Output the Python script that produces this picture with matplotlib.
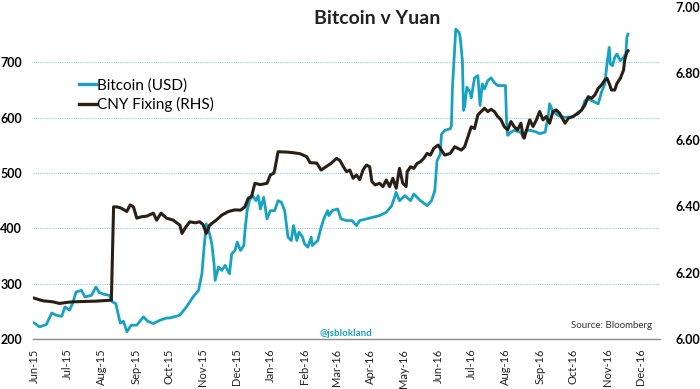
import numpy as np
import pandas as pd
import matplotlib
matplotlib.use("Agg")
import matplotlib.pyplot as plt
from matplotlib.dates import MonthLocator, DateFormatter
from matplotlib.ticker import FormatStrFormatter

# Bitcoin price in USD (left axis)
btc_dates = [
    "2015-06-01", "2015-06-06", "2015-06-12", "2015-06-17", "2015-06-21", "2015-06-26", "2015-06-29",
    "2015-07-03", "2015-07-06", "2015-07-09", "2015-07-14", "2015-07-17", "2015-07-23", "2015-07-27",
    "2015-07-30", "2015-08-03", "2015-08-08", "2015-08-11", "2015-08-14", "2015-08-18", "2015-08-21",
    "2015-08-24", "2015-08-28", "2015-09-02", "2015-09-08", "2015-09-12", "2015-09-17", "2015-09-23",
    "2015-09-29", "2015-10-02", "2015-10-11", "2015-10-17", "2015-10-23", "2015-10-28", "2015-10-31",
    "2015-11-02", "2015-11-04", "2015-11-07", "2015-11-09", "2015-11-11", "2015-11-12", "2015-11-15",
    "2015-11-18", "2015-11-21", "2015-11-25", "2015-11-27", "2015-11-30", "2015-12-02", "2015-12-05",
    "2015-12-08", "2015-12-09", "2015-12-11", "2015-12-13", "2015-12-16", "2015-12-19", "2015-12-21",
    "2015-12-23", "2015-12-26", "2015-12-29", "2016-01-01", "2016-01-05", "2016-01-08", "2016-01-11",
    "2016-01-14", "2016-01-17", "2016-01-20", "2016-01-22", "2016-01-25", "2016-01-27", "2016-01-30",
    "2016-02-01", "2016-02-04", "2016-02-07", "2016-02-08", "2016-02-13", "2016-02-16", "2016-02-19",
    "2016-02-22", "2016-02-23", "2016-02-26", "2016-03-02", "2016-03-05", "2016-03-10", "2016-03-15",
    "2016-03-19", "2016-03-22", "2016-03-28", "2016-04-03", "2016-04-09", "2016-04-15", "2016-04-20",
    "2016-04-24", "2016-04-27", "2016-05-02", "2016-05-07", "2016-05-10", "2016-05-16", "2016-05-22",
    "2016-05-26", "2016-05-29", "2016-05-31", "2016-06-03", "2016-06-04", "2016-06-07", "2016-06-12",
    "2016-06-13", "2016-06-14", "2016-06-15", "2016-06-17", "2016-06-20", "2016-06-21", "2016-06-23",
    "2016-06-24", "2016-06-25", "2016-06-27", "2016-06-30", "2016-07-01", "2016-07-04", "2016-07-07",
    "2016-07-09", "2016-07-11", "2016-07-13", "2016-07-16", "2016-07-19", "2016-07-22", "2016-07-25",
    "2016-07-28", "2016-08-01", "2016-08-02", "2016-08-03", "2016-08-06", "2016-08-09", "2016-08-14",
    "2016-08-17", "2016-08-20", "2016-08-24", "2016-08-29", "2016-09-01", "2016-09-06", "2016-09-09",
    "2016-09-10", "2016-09-13", "2016-09-18", "2016-09-22", "2016-09-27", "2016-10-01", "2016-10-06",
    "2016-10-09", "2016-10-12", "2016-10-15", "2016-10-18", "2016-10-21", "2016-10-24", "2016-10-27",
    "2016-10-30", "2016-11-01", "2016-11-03", "2016-11-04", "2016-11-06", "2016-11-08", "2016-11-10",
    "2016-11-13", "2016-11-16", "2016-11-18", "2016-11-19", "2016-11-20",
]
btc_values = [
    229, 222, 226, 247, 243, 241, 258,
    252, 265, 285, 288, 276, 279, 294,
    284, 281, 279, 267, 264, 229, 232,
    213, 225, 225, 240, 232, 228, 234,
    238, 238, 243, 258, 276, 288, 318,
    366, 408, 390, 372, 336, 306, 330,
    324, 333, 318, 354, 360, 375, 360,
    369, 396, 432, 450, 459, 450, 459,
    435, 456, 417, 432, 432, 450, 447,
    432, 384, 378, 405, 378, 393, 385,
    372, 366, 384, 369, 378, 402, 420,
    432, 423, 432, 435, 417, 414, 414,
    405, 414, 417, 420, 423, 429, 441,
    465, 450, 459, 450, 462, 450, 441,
    450, 468, 522, 534, 570, 577, 580,
    585, 655, 691, 760, 754, 745, 703,
    613, 620, 655, 646, 636, 672, 676,
    622, 661, 652, 667, 672, 663, 658,
    658, 658, 595, 568, 574, 577, 574,
    568, 577, 577, 574, 571, 574, 607,
    625, 611, 604, 601, 601, 601, 610,
    613, 631, 634, 631, 628, 625, 646,
    661, 697, 727, 697, 694, 709, 715,
    703, 709, 715, 745, 751,
]

# CNY fixing (right axis)
cny_dates = [
    "2015-06-01", "2015-06-09", "2015-06-18", "2015-06-24", "2015-06-30", "2015-07-06", "2015-07-17",
    "2015-07-27", "2015-08-10", "2015-08-12", "2015-08-15", "2015-08-19", "2015-08-24", "2015-08-27",
    "2015-08-30", "2015-09-02", "2015-09-06", "2015-09-11", "2015-09-17", "2015-09-20", "2015-09-24",
    "2015-09-29", "2015-10-05", "2015-10-11", "2015-10-13", "2015-10-16", "2015-10-20", "2015-10-25",
    "2015-10-29", "2015-11-01", "2015-11-04", "2015-11-07", "2015-11-13", "2015-11-18", "2015-11-24",
    "2015-11-30", "2015-12-05", "2015-12-09", "2015-12-12", "2015-12-15", "2015-12-18", "2015-12-23",
    "2015-12-29", "2016-01-01", "2016-01-04", "2016-01-05", "2016-01-08", "2016-01-16", "2016-01-22",
    "2016-01-28", "2016-02-03", "2016-02-06", "2016-02-12", "2016-02-16", "2016-02-21", "2016-02-25",
    "2016-03-01", "2016-03-04", "2016-03-07", "2016-03-10", "2016-03-13", "2016-03-16", "2016-03-19",
    "2016-03-22", "2016-03-25", "2016-03-28", "2016-03-31", "2016-04-02", "2016-04-05", "2016-04-09",
    "2016-04-12", "2016-04-15", "2016-04-18", "2016-04-21", "2016-04-24", "2016-04-27", "2016-04-30",
    "2016-05-03", "2016-05-04", "2016-05-07", "2016-05-10", "2016-05-13", "2016-05-16", "2016-05-19",
    "2016-05-22", "2016-05-25", "2016-05-28", "2016-06-01", "2016-06-04", "2016-06-07", "2016-06-12",
    "2016-06-16", "2016-06-19", "2016-06-22", "2016-06-25", "2016-06-28", "2016-07-01", "2016-07-04",
    "2016-07-07", "2016-07-10", "2016-07-13", "2016-07-16", "2016-07-19", "2016-07-22", "2016-07-25",
    "2016-07-28", "2016-07-31", "2016-08-03", "2016-08-06", "2016-08-09", "2016-08-12", "2016-08-15",
    "2016-08-17", "2016-08-18", "2016-08-21", "2016-08-23", "2016-08-26", "2016-08-29", "2016-09-01",
    "2016-09-04", "2016-09-07", "2016-09-10", "2016-09-13", "2016-09-16", "2016-09-19", "2016-09-24",
    "2016-09-27", "2016-10-01", "2016-10-06", "2016-10-09", "2016-10-12", "2016-10-15", "2016-10-18",
    "2016-10-21", "2016-10-24", "2016-10-27", "2016-10-30", "2016-11-01", "2016-11-03", "2016-11-05",
    "2016-11-08", "2016-11-10", "2016-11-13", "2016-11-16", "2016-11-17", "2016-11-19", "2016-11-20",
]
cny_values = [
    6.123, 6.115, 6.112, 6.107, 6.110, 6.112, 6.113,
    6.114, 6.117, 6.398, 6.398, 6.394, 6.384, 6.404,
    6.398, 6.364, 6.368, 6.370, 6.379, 6.358, 6.379,
    6.364, 6.358, 6.343, 6.318, 6.335, 6.353, 6.350,
    6.353, 6.345, 6.318, 6.343, 6.358, 6.373, 6.384,
    6.389, 6.388, 6.398, 6.424, 6.430, 6.469, 6.465,
    6.469, 6.494, 6.499, 6.510, 6.564, 6.563, 6.561,
    6.558, 6.549, 6.531, 6.530, 6.509, 6.520, 6.529,
    6.544, 6.538, 6.520, 6.504, 6.509, 6.484, 6.494,
    6.480, 6.509, 6.524, 6.519, 6.474, 6.464, 6.469,
    6.459, 6.479, 6.459, 6.484, 6.454, 6.514, 6.469,
    6.459, 6.504, 6.519, 6.514, 6.529, 6.534, 6.544,
    6.559, 6.554, 6.574, 6.584, 6.569, 6.554, 6.559,
    6.579, 6.574, 6.569, 6.579, 6.609, 6.639, 6.634,
    6.675, 6.685, 6.695, 6.685, 6.692, 6.685, 6.670,
    6.660, 6.639, 6.630, 6.655, 6.639, 6.630, 6.650,
    6.609, 6.605, 6.639, 6.660, 6.640, 6.660, 6.685,
    6.660, 6.670, 6.650, 6.685, 6.690, 6.680, 6.650,
    6.665, 6.670, 6.680, 6.690, 6.705, 6.730, 6.725,
    6.735, 6.755, 6.765, 6.780, 6.785, 6.770, 6.750,
    6.750, 6.770, 6.785, 6.810, 6.840, 6.865, 6.868,
]

left_ticks = [200, 300, 400, 500, 600, 700]
right_ticks = [6.0, 6.2, 6.4, 6.6, 6.8, 7.0]

CYAN = '#16a2c1'
DARK = '#2a1f14'
FONT = ['Lato', 'DejaVu Sans']


def main():
    plt.rcParams['font.family'] = FONT
    btc = pd.Series(btc_values, index=pd.to_datetime(btc_dates))
    cny = pd.Series(cny_values, index=pd.to_datetime(cny_dates))

    fig = plt.figure(figsize=(7, 3.89), dpi=100)
    ax = fig.add_axes([33 / 700, 50 / 389, 627 / 700, 332 / 389])
    ax2 = ax.twinx()

    l1, = ax.plot(btc.index, btc.values, color=CYAN, lw=2.0, label='Bitcoin (USD)')
    l2, = ax2.plot(cny.index, cny.values, color=DARK, lw=2.2, label='CNY Fixing (RHS)')

    ax.set_xlim(pd.Timestamp('2015-05-31'), pd.Timestamp('2016-12-19'))
    ax.set_ylim(200, 800)
    ax.set_yticks(left_ticks)
    ax2.set_ylim(6.0, 7.0)
    ax2.set_yticks(right_ticks)
    ax2.yaxis.set_major_formatter(FormatStrFormatter('%.2f'))

    # grid from the left axis only
    ax.grid(axis='y', color='#8fd0e2', linestyle=(0, (1, 1)), linewidth=0.8)
    ax.set_axisbelow(True)

    for a in (ax, ax2):
        for s in ('top', 'left', 'right'):
            a.spines[s].set_visible(False)
    ax.spines['bottom'].set_color('#8a8a8a')
    ax.spines['bottom'].set_linewidth(1.0)
    ax2.spines['bottom'].set_visible(False)

    ax.xaxis.set_major_locator(MonthLocator())
    ax.xaxis.set_major_formatter(DateFormatter('%b-%y'))
    ax.tick_params(axis='x', length=0, pad=7, labelsize=8, labelcolor='#222222', labelrotation=90)
    ax.tick_params(axis='y', length=0, pad=8, labelsize=9)
    ax2.tick_params(axis='y', length=0, pad=11, labelsize=9)
    for label in ax.get_yticklabels() + ax2.get_yticklabels():
        label.set_fontweight('bold')

    fig.legend(handles=[l1, l2], loc='upper left', bbox_to_anchor=(79 / 700, 1 - 78 / 389),
               frameon=False, fontsize=11, handlelength=1.1, handletextpad=0.1,
               borderpad=0, borderaxespad=0, labelspacing=0.3)
    for h in fig.legends[0].legend_handles:
        h.set_linewidth(2.4)

    fig.text(377 / 700, 1 - 18 / 389, 'Bitcoin v Yuan', ha='center', va='center',
             fontsize=14, fontweight='bold', color='#222222')
    fig.text(652 / 700, 1 - 325 / 389, 'Source: Bloomberg', ha='right', va='center',
             fontsize=7, color='#333333')
    fig.text(346 / 700, 1 - 333 / 389, '@jsblokland', ha='center', va='center',
             fontsize=7, fontweight='bold', color=CYAN)

    fig.savefig('out.png', dpi=100)


if __name__ == "__main__":
    main()
